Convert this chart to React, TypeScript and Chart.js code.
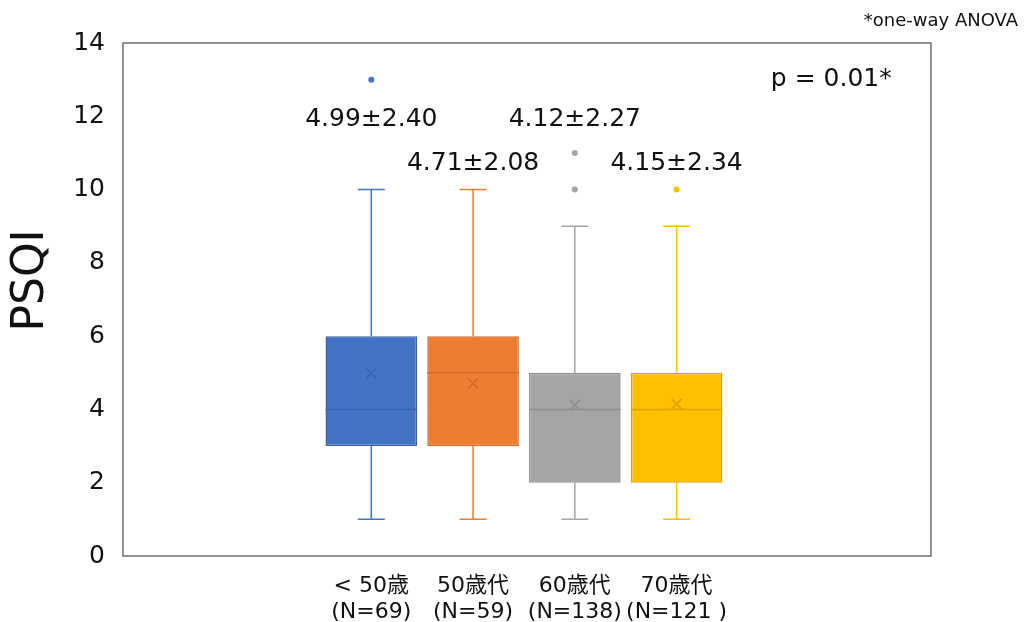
import React, { useEffect, useRef } from 'react';
import { Chart, registerables } from 'chart.js';

Chart.register(...registerables);

// ---- data ----
const categories = ['< 50歳', '50歳代', '60歳代', '70歳代'];
const sampleSizes = ['(N=69)', '(N=59)', '(N=138)', '(N=121 )'];
const whiskerLow = [1, 1, 1, 1];
const quartile1 = [3, 3, 2, 2];
const medians = [4, 5, 4, 4];
const quartile3 = [6, 6, 5, 5];
const whiskerHigh = [10, 10, 9, 9];
const means = [4.99, 4.71, 4.12, 4.15];
const sds = [2.4, 2.08, 2.27, 2.34];
const outliers = [[13], [], [11, 10], [10]];
const yTitle = 'PSQI';
const pValueText = 'p = 0.01*';
const noteText = '*one-way ANOVA';

// ---- style ----
const fills = ['#4472C4', '#ED7D31', '#A5A5A5', '#FFC000'];
const edges = ['#3A63AD', '#CF6A27', '#8E8E8E', '#D9A300'];
const FONT = "'DejaVu Sans', 'Noto Sans CJK JP', sans-serif";
const TEXT = '#111111';

const boxPlotPlugin = {
  id: 'boxPlot',
  beforeDatasetsDraw(chart: any) {
    const { ctx, scales } = chart;
    const x = scales.x, y = scales.y;
    const capHalf = 13.5;
    ctx.save();
    ctx.lineWidth = 1.5;
    categories.forEach((_, i) => {
      const cx = x.getPixelForValue(i + 1);
      ctx.strokeStyle = fills[i];
      ctx.beginPath();
      ctx.moveTo(cx, y.getPixelForValue(whiskerLow[i]));
      ctx.lineTo(cx, y.getPixelForValue(quartile1[i]));
      ctx.moveTo(cx, y.getPixelForValue(quartile3[i]));
      ctx.lineTo(cx, y.getPixelForValue(whiskerHigh[i]));
      [whiskerLow[i], whiskerHigh[i]].forEach((v) => {
        const py = y.getPixelForValue(v);
        ctx.moveTo(cx - capHalf, py);
        ctx.lineTo(cx + capHalf, py);
      });
      ctx.stroke();
    });
    ctx.restore();
  },
  afterDatasetDraw(chart: any, args: any) {
    if (args.index !== 0) return;
    const { ctx, scales } = chart;
    const y = scales.y;
    const meta = chart.getDatasetMeta(0);
    ctx.save();
    ctx.lineWidth = 1.5;
    meta.data.forEach((bar: any, i: number) => {
      const p = bar.getProps(['x', 'width'], true);
      const py = y.getPixelForValue(medians[i]);
      ctx.strokeStyle = edges[i];
      ctx.beginPath();
      ctx.moveTo(p.x - p.width / 2, py);
      ctx.lineTo(p.x + p.width / 2, py);
      ctx.stroke();
    });
    ctx.restore();
  },
  afterDraw(chart: any, _args: any, opts: any) {
    const { ctx, scales, chartArea } = chart;
    const x = scales.x, y = scales.y;
    ctx.save();
    // frame
    ctx.strokeStyle = '#6e6e6e';
    ctx.lineWidth = 1.5;
    ctx.strokeRect(chartArea.left, chartArea.top, chartArea.right - chartArea.left, chartArea.bottom - chartArea.top);
    // mean ± SD labels
    ctx.fillStyle = TEXT;
    ctx.textAlign = 'center';
    ctx.textBaseline = 'middle';
    ctx.font = `25px ${FONT}`;
    categories.forEach((_, i) => {
      const label = `${means[i].toFixed(2)}±${sds[i].toFixed(2)}`;
      ctx.fillText(label, x.getPixelForValue(i + 1), y.getPixelForValue(opts.statLabelLevels[i]));
    });
    // p value
    ctx.fillText(pValueText, x.getPixelForValue(opts.pValuePos.x), y.getPixelForValue(opts.pValuePos.y));
    // note
    ctx.font = `18px ${FONT}`;
    ctx.textAlign = 'right';
    ctx.fillText(noteText, chart.width - 6, 21);
    // y title
    ctx.font = `44px ${FONT}`;
    ctx.textAlign = 'center';
    ctx.translate(32, (chartArea.top + chartArea.bottom) / 2 - 19);
    ctx.rotate(-Math.PI / 2);
    ctx.fillText(yTitle, 0, 0);
    ctx.restore();
  },
};

export default function App() {
  const canvasRef = useRef<HTMLCanvasElement | null>(null);

  useEffect(() => {
    const canvas = canvasRef.current;
    if (!canvas) return;

    const boxData = categories.map((_, i) => ({ x: i + 1, y: [quartile1[i], quartile3[i]] }));
    const meanData = categories.map((_, i) => ({ x: i + 1, y: means[i] }));
    const outlierData: { x: number; y: number }[] = [];
    const outlierColors: string[] = [];
    outliers.forEach((list, i) => {
      list.forEach((v) => {
        outlierData.push({ x: i + 1, y: v });
        outlierColors.push(fills[i]);
      });
    });

    const chart = new Chart(canvas, {
      type: 'bar',
      data: {
        datasets: [
          {
            type: 'bar',
            data: boxData as any,
            backgroundColor: fills,
            borderColor: edges,
            borderWidth: 1.5,
            borderSkipped: false,
            barPercentage: 0.9,
            categoryPercentage: 1.0,
            order: 3,
          } as any,
          {
            type: 'scatter',
            data: meanData,
            pointStyle: 'crossRot',
            pointRadius: 7,
            borderColor: edges,
            backgroundColor: edges,
            borderWidth: 1.5,
            order: 2,
          } as any,
          {
            type: 'scatter',
            data: outlierData,
            pointStyle: 'circle',
            pointRadius: 3,
            backgroundColor: outlierColors,
            borderColor: outlierColors,
            borderWidth: 0,
            order: 1,
          } as any,
        ],
      },
      options: {
        responsive: false,
        animation: false,
        layout: { padding: { left: 0, top: 43, right: 93, bottom: 0 } },
        plugins: {
          legend: { display: false },
          tooltip: { enabled: false },
          boxPlot: {
            statLabelLevels: [11.9, 10.72, 11.9, 10.72],
            pValuePos: { x: 5.52, y: 13.0 },
          },
        } as any,
        scales: {
          x: {
            type: 'linear',
            min: -1.44,
            max: 6.5,
            offset: false,
            grid: { display: false, offset: false },
            border: { display: false },
            afterBuildTicks: (scale: any) => {
              scale.ticks = categories.map((_, i) => ({ value: i + 1 }));
            },
            afterFit: (scale: any) => {
              scale.height = 66;
            },
            ticks: {
              autoSkip: false,
              maxRotation: 0,
              padding: 9,
              color: TEXT,
              font: { family: FONT, size: 22, lineHeight: 1.18 },
              callback: (value: any) => {
                const i = Math.round(Number(value)) - 1;
                return [categories[i], sampleSizes[i]];
              },
            },
          },
          y: {
            type: 'linear',
            min: 0,
            max: 14,
            grid: { display: false },
            border: { display: false },
            afterFit: (scale: any) => {
              scale.width = 123;
            },
            ticks: {
              stepSize: 2,
              padding: 10,
              color: TEXT,
              font: { family: FONT, size: 25 },
            },
          },
        },
      },
      plugins: [boxPlotPlugin],
    });

    return () => chart.destroy();
  }, []);

  return (
    <div style={{ position: 'fixed', left: 0, top: 0, width: 1024, height: 622, background: '#ffffff' }}>
      <canvas ref={canvasRef} width={1024} height={622} />
    </div>
  );
}
